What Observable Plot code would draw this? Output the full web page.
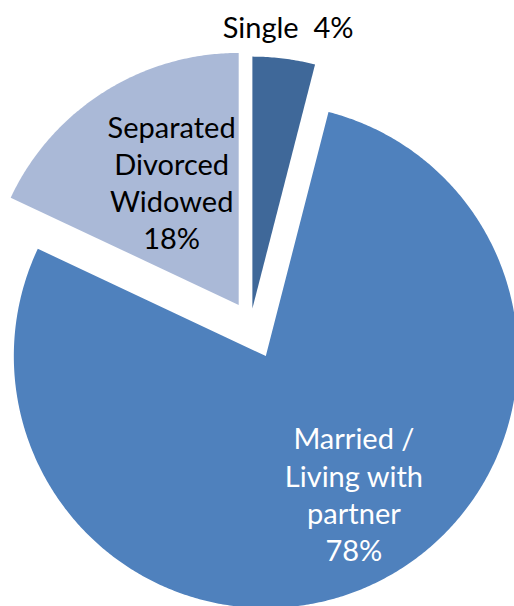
<!DOCTYPE html>
<html>
<head>
<meta charset="utf-8">
<script src="https://cdn.jsdelivr.net/npm/d3@7"></script>
<script src="https://cdn.jsdelivr.net/npm/@observablehq/plot@0.6"></script>
<style>
  html, body { margin: 0; padding: 0; background: #ffffff; }
  #chart { width: 514px; height: 606px; }
</style>
</head>
<body>
<div id="chart"></div>
<script>
// ---- Data ----
const categories = ["Single", "Married / Living with partner", "Separated Divorced Widowed"];
const values = [4, 78, 18];
const labelLines = ["Single", "Married /\nLiving with\npartner", "Separated\nDivorced\nWidowed"];
const colors = ["#3F6899", "#4F81BD", "#AAB9D7"];
const textColors = ["#000000", "#ffffff", "#000000"];

// ---- Layout / style ----
const W = 514, H = 606;
const R = 252;             // pie radius in px
const CX = 250, CY = 323;  // pie centre in px
const explodePx = [15, 36, 22];
const labelRadius = [1.13, 0.647, 0.556];
const labelAngleShift = [0, -7.5, 3.8]; // degrees

const pie = d3.pie().sort(null).startAngle(0).endAngle(2 * Math.PI)(values);

const polys = [];
const labels = [];
pie.forEach((p, i) => {
  const mid = (p.startAngle + p.endAngle) / 2;
  const ox = (explodePx[i] / R) * Math.sin(mid);
  const oy = (explodePx[i] / R) * Math.cos(mid);
  const name = categories[i];
  polys.push({name, x: ox, y: oy});
  const n = Math.max(2, Math.ceil((p.endAngle - p.startAngle) / (Math.PI / 360)));
  for (let k = 0; k <= n; k++) {
    const a = p.startAngle + (p.endAngle - p.startAngle) * k / n;
    polys.push({name, x: ox + Math.sin(a), y: oy + Math.cos(a)});
  }
  polys.push({name, x: ox, y: oy});
  const la = mid + labelAngleShift[i] * Math.PI / 180;
  const pct = `${values[i]}%`;
  labels.push({
    name,
    x: ox + labelRadius[i] * Math.sin(la),
    y: oy + labelRadius[i] * Math.cos(la),
    text: i === 0 ? `${labelLines[i]}\u00a0 ${pct}` : `${labelLines[i]}\n${pct}`,
    color: textColors[i]
  });
});

const chart = Plot.plot({
  width: W,
  height: H,
  margin: 0,
  style: {background: "#ffffff", overflow: "hidden"},
  x: {domain: [-CX / R, (W - CX) / R], range: [0, W], axis: null},
  y: {domain: [-(H - CY) / R, CY / R], range: [H, 0], axis: null},
  color: {domain: categories, range: colors},
  marks: [
    Plot.line(polys, {x: "x", y: "y", z: "name", fill: "name", stroke: null, curve: "linear"}),
    Plot.text(labels, {
      x: "x", y: "y", text: "text", fill: "color",
      fontSize: 29, lineHeight: 1.28,
      fontFamily: "Lato, 'Open Sans', sans-serif",
      textAnchor: "middle"
    })
  ]
});
document.getElementById("chart").appendChild(chart);
</script>
</body>
</html>
